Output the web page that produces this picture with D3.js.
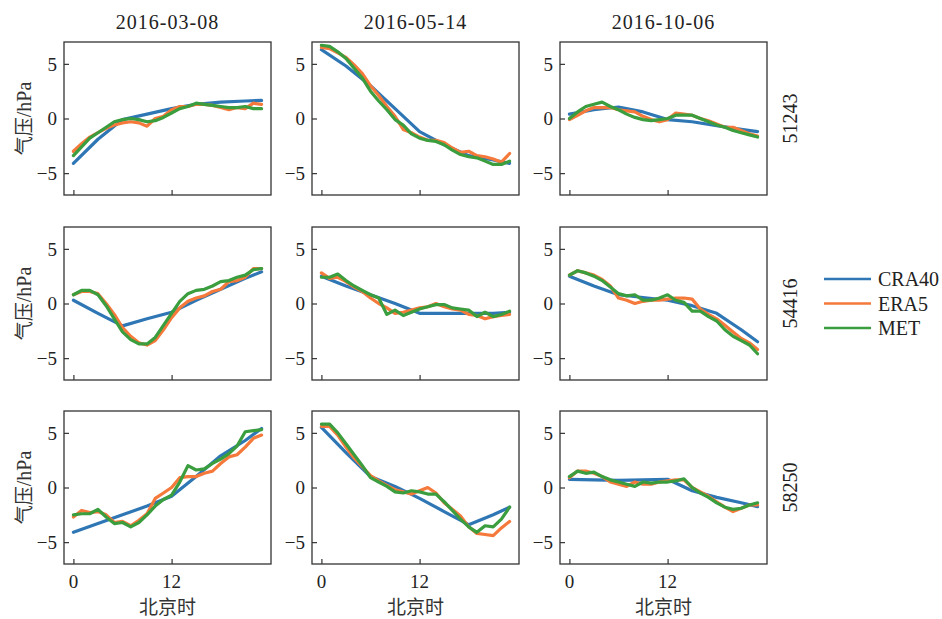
<!DOCTYPE html>
<html>
<head>
<meta charset="utf-8">
<script src="https://cdn.jsdelivr.net/npm/d3@7"></script>
<style>
  body { margin: 0; background: #fff; }
  svg { font-family: "Liberation Serif", "DejaVu Serif", serif; }
</style>
</head>
<body>
<script>
// dates (columns), stations (rows), series
const dates = ['2016-03-08', '2016-05-14', '2016-10-06'];
const stations = ['51243', '54416', '58250'];
const seriesNames = ['CRA40', 'ERA5', 'MET'];
const seriesColours = ['#2f77b4', '#f5793a', '#3a9d3e'];

const hours = d3.range(0, 24);
const cra40Hours = [0, 3, 6, 9, 12, 15, 18, 21, 23];
const xTicks = [0, 12];
const yTicks = [-5, 0, 5];

// CRA40, 3-hourly, one list per date
const cra40_51243 = [
  [-4.1, -1.9, -0.1, 0.4, 0.9, 1.3, 1.5, 1.6, 1.65],
  [6.3, 4.8, 3.0, 0.9, -1.2, -2.4, -3.4, -3.8, -4.1],
  [0.4, 0.8, 1.05, 0.6, -0.1, -0.3, -0.65, -1.0, -1.2]
];
const cra40_54416 = [
  [0.3, -0.9, -2.05, -1.4, -0.8, 0.3, 1.3, 2.3, 2.9],
  [2.5, 1.6, 0.8, 0.0, -0.9, -0.9, -0.9, -0.9, -0.8],
  [2.5, 1.6, 0.8, 0.55, 0.3, -0.2, -0.9, -2.4, -3.5]
];
const cra40_58250 = [
  [-4.1, -3.3, -2.5, -1.7, -0.8, 1.0, 2.9, 4.3, 5.4],
  [5.5, 3.2, 1.0, 0.1, -1.0, -2.2, -3.4, -2.5, -1.8],
  [0.75, 0.7, 0.65, 0.7, 0.75, -0.3, -0.9, -1.4, -1.75]
];

// ERA5, hourly
const era5_51243 = [
  [-3.0, -2.3, -1.7, -1.3, -0.9, -0.6, -0.4, -0.3, -0.4, -0.7, 0.0, 0.2, 0.8, 1.1, 1.1, 1.3, 1.3, 1.2, 1.0, 0.8, 1.0, 0.9, 1.4, 1.3],
  [6.5, 6.4, 6.0, 5.6, 4.9, 4.1, 3.0, 2.1, 1.1, 0.2, -1.0, -1.3, -1.7, -2.0, -2.0, -2.2, -2.7, -3.1, -3.0, -3.4, -3.5, -3.7, -4.0, -3.2],
  [-0.1, 0.3, 0.7, 1.0, 1.0, 1.0, 0.8, 0.7, 0.6, 0.2, -0.1, -0.3, -0.1, 0.5, 0.4, 0.3, 0.0, -0.2, -0.5, -0.8, -0.8, -1.1, -1.4, -1.6]
];
const era5_54416 = [
  [0.8, 1.1, 1.1, 0.9, 0.0, -1.0, -2.2, -3.0, -3.6, -3.8, -3.4, -2.4, -1.3, -0.4, 0.2, 0.5, 0.7, 1.1, 1.3, 2.0, 2.1, 2.4, 3.2, 3.2],
  [2.8, 2.3, 2.4, 2.0, 1.5, 1.1, 0.5, 0.0, -0.4, -0.9, -0.8, -0.6, -0.4, -0.3, 0.0, -0.3, -0.5, -0.6, -1.0, -1.1, -1.4, -1.2, -1.1, -1.0],
  [2.6, 3.0, 2.8, 2.6, 2.2, 1.6, 0.5, 0.3, 0.0, 0.2, 0.3, 0.3, 0.4, 0.5, 0.5, 0.4, -0.5, -1.0, -1.4, -2.0, -2.6, -3.2, -3.6, -4.2]
];
const era5_58250 = [
  [-2.7, -2.1, -2.3, -2.2, -2.5, -3.2, -3.1, -3.5, -3.0, -2.4, -1.0, -0.5, 0.0, 0.9, 1.0, 1.0, 1.3, 1.5, 2.2, 2.8, 3.0, 3.7, 4.5, 4.8],
  [5.6, 5.6, 4.8, 3.7, 2.7, 1.9, 1.1, 0.6, 0.2, -0.2, -0.4, -0.6, -0.3, 0.0, -0.5, -1.4, -2.0, -2.6, -3.6, -4.2, -4.3, -4.4, -3.7, -3.1],
  [0.9, 1.5, 1.5, 1.3, 1.0, 0.5, 0.3, 0.1, 0.5, 0.3, 0.3, 0.5, 0.6, 0.7, 0.7, 0.0, -0.4, -0.8, -1.3, -1.8, -2.2, -1.9, -1.6, -1.6]
];

// MET observations, hourly
const met_51243 = [
  [-3.4, -2.6, -1.8, -1.3, -0.8, -0.3, -0.1, 0.0, -0.1, -0.3, -0.2, 0.1, 0.5, 0.9, 1.1, 1.4, 1.3, 1.2, 1.1, 1.0, 1.0, 1.1, 0.9, 0.9],
  [6.7, 6.6, 6.1, 5.5, 4.6, 3.7, 2.5, 1.6, 0.8, -0.1, -0.6, -1.4, -1.8, -2.0, -2.1, -2.4, -2.9, -3.3, -3.5, -3.6, -3.9, -4.2, -4.2, -3.9],
  [0.0, 0.6, 1.1, 1.3, 1.5, 1.1, 0.8, 0.4, 0.1, -0.1, -0.2, -0.1, 0.0, 0.3, 0.3, 0.3, 0.0, -0.3, -0.6, -0.8, -1.1, -1.3, -1.5, -1.7]
];
const met_54416 = [
  [0.8, 1.2, 1.2, 0.8, -0.2, -1.4, -2.6, -3.3, -3.7, -3.7, -3.1, -2.0, -0.9, 0.2, 0.9, 1.2, 1.3, 1.6, 2.0, 2.1, 2.4, 2.6, 3.1, 3.2],
  [2.4, 2.4, 2.7, 2.1, 1.6, 1.2, 0.8, 0.5, -1.0, -0.6, -1.1, -0.8, -0.5, -0.3, -0.1, -0.1, -0.4, -0.5, -0.6, -1.2, -0.8, -1.2, -1.0, -0.7],
  [2.6, 3.0, 2.8, 2.5, 2.1, 1.5, 0.9, 0.7, 0.8, 0.3, 0.3, 0.5, 0.8, 0.3, 0.1, -0.7, -0.7, -1.2, -1.6, -2.4, -3.0, -3.4, -3.8, -4.6]
];
const met_58250 = [
  [-2.5, -2.4, -2.4, -2.0, -2.7, -3.3, -3.2, -3.6, -3.2, -2.5, -1.7, -1.1, -0.7, 0.5, 2.0, 1.6, 1.7, 2.2, 2.6, 3.1, 3.8, 5.1, 5.2, 5.3],
  [5.8, 5.8, 5.0, 4.0, 3.0, 2.0, 0.9, 0.5, 0.1, -0.4, -0.5, -0.3, -0.4, -0.6, -0.6, -1.3, -2.1, -2.9, -3.6, -4.1, -3.5, -3.6, -2.9, -1.8],
  [1.0, 1.5, 1.3, 1.4, 1.0, 0.7, 0.5, 0.3, 0.1, 0.5, 0.4, 0.5, 0.5, 0.6, 0.8, 0.0, -0.5, -0.9, -1.4, -1.8, -2.0, -1.9, -1.6, -1.4]
];

const cra40 = [cra40_51243, cra40_54416, cra40_58250];
const era5 = [era5_51243, era5_54416, era5_58250];
const met = [met_51243, met_54416, met_58250];

const chartWidth = 942;
const chartHeight = 619;

const panelLeft = [64, 312, 560];
const panelTop = [42, 227, 411];
const panelWidth = 207;
const panelHeight = 153;
const tickLen = 5;

const cjkFont = '"Noto Sans CJK SC", sans-serif';

const svg = d3.select('body').append('svg')
    .attr('width', chartWidth)
    .attr('height', chartHeight);

const xScale = d3.scaleLinear()
    .domain([-1.15, 24.15])
    .range([0, panelWidth]);

const yScale = d3.scaleLinear()
    .domain([-7, 7])
    .range([panelHeight, 0]);

const line = d3.line()
    .x(d => xScale(d[0]))
    .y(d => yScale(d[1]));

const fmt = d => d < 0 ? '\u2212' + Math.abs(d) : String(d);

// column titles
dates.forEach((date, c) => {
  svg.append('text')
      .attr('x', panelLeft[c] + panelWidth / 2)
      .attr('y', 29)
      .attr('text-anchor', 'middle')
      .attr('font-size', 20)
      .attr('letter-spacing', 1)
      .attr('fill', '#222')
      .text(date);
});

stations.forEach((station, r) => {
  dates.forEach((date, c) => {
    const g = svg.append('g')
        .attr('transform', `translate(${panelLeft[c]},${panelTop[r]})`);

    // axes, ticks pointing inward
    const xAxis = d3.axisTop(xScale)
        .tickValues(xTicks)
        .tickSize(tickLen)
        .tickSizeOuter(0)
        .tickFormat('');
    const yAxis = d3.axisRight(yScale)
        .tickValues(yTicks)
        .tickSize(tickLen)
        .tickSizeOuter(0)
        .tickFormat('');

    g.append('g')
        .attr('transform', `translate(0,${panelHeight})`)
        .call(xAxis)
        .call(a => a.select('.domain').remove())
        .selectAll('line').attr('stroke', '#333').attr('stroke-width', 1.2);

    g.append('g')
        .call(yAxis)
        .call(a => a.select('.domain').remove())
        .selectAll('line').attr('stroke', '#333').attr('stroke-width', 1.2);

    // y tick labels
    g.selectAll('.ylab')
        .data(yTicks)
      .enter().append('text')
        .attr('x', -7)
        .attr('y', d => yScale(d))
        .attr('dy', '0.35em')
        .attr('text-anchor', 'end')
        .attr('font-size', 19)
        .attr('fill', '#222')
        .text(fmt);

    // x tick labels on bottom row only
    if (r === stations.length - 1) {
      g.selectAll('.xlab')
          .data(xTicks)
        .enter().append('text')
          .attr('x', d => xScale(d))
          .attr('y', panelHeight + 24)
          .attr('text-anchor', 'middle')
          .attr('font-size', 19)
          .attr('fill', '#222')
          .text(d => d);

      g.append('text')
          .attr('x', panelWidth / 2)
          .attr('y', panelHeight + 50)
          .attr('text-anchor', 'middle')
          .attr('font-family', cjkFont)
          .attr('font-size', 19)
          .attr('fill', '#333')
          .text('北京时');
    }

    // lines
    const series = [
      cra40Hours.map((h, i) => [h, cra40[r][c][i]]),
      hours.map((h, i) => [h, era5[r][c][i]]),
      hours.map((h, i) => [h, met[r][c][i]])
    ];

    series.forEach((pts, i) => {
      g.append('path')
          .attr('d', line(pts))
          .attr('fill', 'none')
          .attr('stroke', seriesColours[i])
          .attr('stroke-width', 3.2)
          .attr('stroke-linejoin', 'round')
          .attr('stroke-linecap', 'round');
    });

    // frame
    g.append('rect')
        .attr('width', panelWidth)
        .attr('height', panelHeight)
        .attr('fill', 'none')
        .attr('stroke', '#333')
        .attr('stroke-width', 1.3);
  });

  // y label on the left
  const cy = panelTop[r] + panelHeight / 2;
  svg.append('text')
      .attr('transform', `translate(31,${cy}) rotate(-90)`)
      .attr('text-anchor', 'middle')
      .attr('font-size', 20)
      .attr('fill', '#333')
      .call(t => {
        t.append('tspan').attr('font-family', cjkFont).attr('font-size', 19).text('气压');
        t.append('tspan').text('/hPa');
      });

  // station on the right
  svg.append('text')
      .attr('transform', `translate(797,${cy}) rotate(-90)`)
      .attr('text-anchor', 'middle')
      .attr('font-size', 20)
      .attr('fill', '#222')
      .text(station);
});

// legend
const legend = svg.append('g')
    .attr('transform', 'translate(824,279)');

const keys = legend.selectAll('g')
    .data(seriesNames)
  .enter().append('g')
    .attr('transform', (d, i) => `translate(0,${i * 24.5})`);

keys.append('line')
    .attr('x1', 0)
    .attr('x2', 47)
    .attr('stroke', (d, i) => seriesColours[i])
    .attr('stroke-width', 2.5);

keys.append('text')
    .attr('x', 54)
    .attr('dy', '0.35em')
    .attr('font-size', 20)
    .attr('fill', '#222')
    .text(d => d);
</script>
</body>
</html>
